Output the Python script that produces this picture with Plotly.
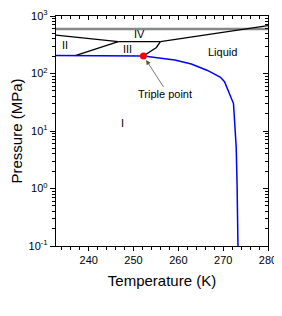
import plotly.graph_objects as go
import numpy as np

# Phase boundary data (T in K, P in MPa)
ih_iii_T = [232.7, 252.2]
ih_iii_P = [205, 202]
melt_T = [252.2, 255.0, 259.2, 262.9, 266.5, 269.4, 270.3, 272.3, 272.9, 273.1, 273.3]
melt_P = [202, 190, 172, 146, 113, 86, 72, 30, 5.3, 1.2, 0.1]

ii_v_T = [232.7, 246.6]
ii_v_P = [466, 357]
ii_iii_T = [237.0, 246.6]
ii_iii_P = [204, 357]
iii_v_T = [246.6, 256.0]
iii_v_P = [357, 357]
iii_liq_T = [252.2, 255.1, 256.0]
iii_liq_P = [202, 284, 357]
v_liq_T = [256.0, 280.0]
v_liq_P = [357, 678]
gray_T = [232.7, 280.0]
gray_P = [595, 595]

triple_T = [252.2]
triple_P = [202]

region_labels = ["II", "III", "IV", "Liquid", "I"]
region_T = [234.7, 248.7, 251.3, 269.8, 247.5]
region_P = [313, 263, 479, 240, 13.6]

x_range = [232.7, 280]
y_range_log = [-1, 3]
x_major = [240, 250, 260, 270, 280]
x_minor = [234, 236, 238, 242, 244, 246, 248, 252, 254, 256, 258, 262, 264, 266, 268, 272, 274, 276, 278]
y_major = [0.1, 1, 10, 100, 1000]
y_major_text = ["10<sup>-1</sup>", "10<sup>0</sup>", "10<sup>1</sup>", "10<sup>2</sup>", "10<sup>3</sup>"]
y_minor = [m * d for d in [0.1, 1, 10, 100] for m in range(2, 10)]

fig = go.Figure()
black = dict(color="black", width=1.3)
fig.add_trace(go.Scatter(x=gray_T, y=gray_P, mode="lines", line=dict(color="#888888", width=2.4)))
for T, P in [(ii_v_T, ii_v_P), (ii_iii_T, ii_iii_P), (iii_v_T, iii_v_P), (iii_liq_T, iii_liq_P), (v_liq_T, v_liq_P)]:
    fig.add_trace(go.Scatter(x=T, y=P, mode="lines", line=black))
fig.add_trace(go.Scatter(x=ih_iii_T, y=ih_iii_P, mode="lines", line=dict(color="#0000ff", width=1.5)))
fig.add_trace(go.Scatter(x=melt_T, y=melt_P, mode="lines", line=dict(color="#0000ff", width=1.5)))
fig.add_trace(go.Scatter(x=triple_T, y=triple_P, mode="markers",
                         marker=dict(color="#ff0000", size=7, symbol="circle")))

for lab, t, p in zip(region_labels, region_T, region_P):
    fig.add_annotation(x=t, y=np.log10(p), text=lab, showarrow=False,
                       font=dict(size=11, color="black"))

fig.add_annotation(x=257.1, y=np.log10(43.5), text="Triple point", showarrow=False,
                   font=dict(size=11, color="black"))
fig.add_annotation(x=252.8, y=np.log10(172), ax=256.9, ay=np.log10(55),
                   axref="x", ayref="y", text="", showarrow=True,
                   arrowhead=2, arrowsize=1.2, arrowwidth=0.8, arrowcolor="#555555")

tickfont = dict(family="Liberation Sans, Arial, sans-serif", size=11, color="black")
common = dict(showline=True, linecolor="black", linewidth=1.3, showgrid=False, zeroline=False,
              automargin=False, tickwidth=1, tickcolor="black")
fig.update_layout(
    width=274, height=308,
    margin=dict(l=48, r=14, t=8, b=70),
    paper_bgcolor="white", plot_bgcolor="white",
    showlegend=False,
    font=dict(family="Liberation Sans, Arial, sans-serif", color="black"),
    xaxis=dict(range=x_range, tickvals=x_major, ticks="outside", ticklen=4,
               tickfont=tickfont,
               minor=dict(tickvals=x_minor, ticks="outside", ticklen=3, tickcolor="black"),
               title=dict(text="Temperature (K)", font=dict(size=15), standoff=10), **common),
    yaxis=dict(type="log", range=y_range_log, tickvals=y_major, ticktext=y_major_text,
               ticks="outside", ticklen=5, tickfont=tickfont,
               minor=dict(tickvals=y_minor, ticks="outside", ticklen=3, tickcolor="black", showgrid=False),
               title=dict(text="Pressure (MPa)", font=dict(size=15), standoff=4), **common),
    xaxis2=dict(range=x_range, overlaying="x", side="top", tickvals=x_major, ticks="inside",
                ticklen=4, showticklabels=False,
                minor=dict(tickvals=x_minor, ticks="inside", ticklen=3, tickcolor="black"), **common),
    yaxis2=dict(type="log", range=y_range_log, overlaying="y", side="right", tickvals=y_major,
                ticks="inside", ticklen=5, showticklabels=False,
                minor=dict(tickvals=y_minor, ticks="inside", ticklen=3, tickcolor="black", showgrid=False),
                **common),
)
fig.add_trace(go.Scatter(x=[None], y=[None], xaxis="x2", yaxis="y2", showlegend=False))

fig.write_html("out.html")
